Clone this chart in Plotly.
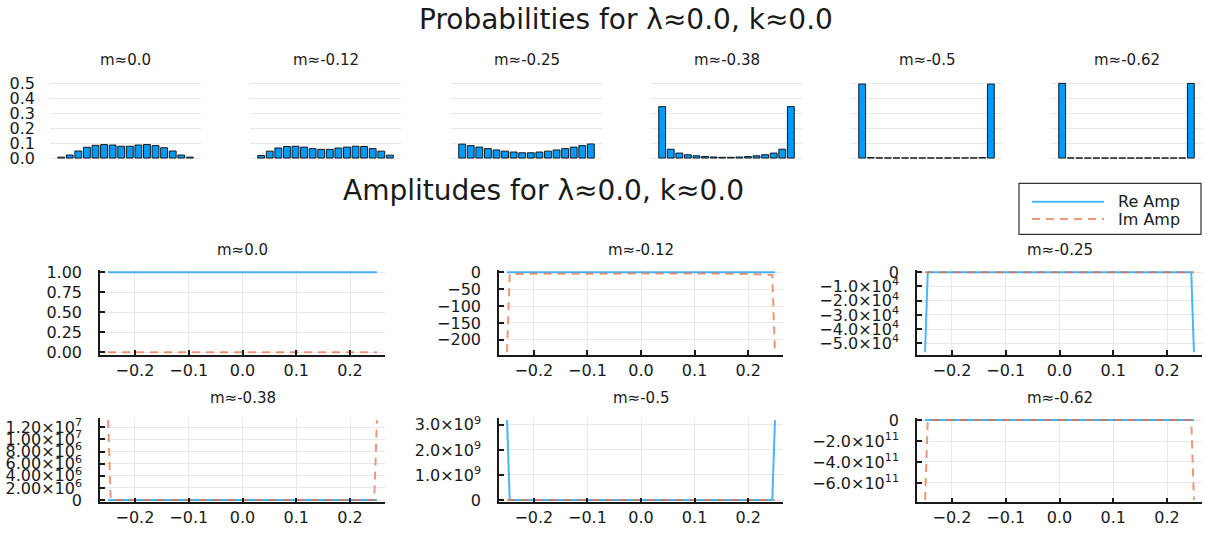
import plotly.graph_objects as go

# ---------------------------------------------------------------- data
M_LABELS = ["m≈0.0", "m≈-0.12", "m≈-0.25", "m≈-0.38", "m≈-0.5", "m≈-0.62"]

STATE_INDEX = [1, 2, 3, 4, 5, 6, 7, 8, 9, 10, 11, 12, 13, 14, 15, 16]

PROB_M0 = [0.006, 0.02, 0.047, 0.072, 0.085, 0.09, 0.087, 0.079,
           0.079, 0.087, 0.09, 0.083, 0.069, 0.047, 0.02, 0.006]
PROB_M012 = [0.017, 0.046, 0.067, 0.077, 0.079, 0.073, 0.063, 0.058,
             0.058, 0.067, 0.073, 0.079, 0.077, 0.063, 0.046, 0.019]
PROB_M025 = [0.093, 0.083, 0.073, 0.063, 0.054, 0.046, 0.04, 0.035,
             0.035, 0.04, 0.046, 0.054, 0.063, 0.073, 0.083, 0.094]
PROB_M038 = [0.344, 0.059, 0.033, 0.022, 0.015, 0.01, 0.007, 0.005,
             0.005, 0.007, 0.01, 0.015, 0.022, 0.033, 0.059, 0.344]
PROB_M05 = [0.495, 0.003, 0.001, 0.0008, 0.0006, 0.0005, 0.0005, 0.0005,
            0.0005, 0.0005, 0.0005, 0.0006, 0.0008, 0.001, 0.003, 0.495]
PROB_M062 = [0.4995, 0.0003, 0.0002, 0.0001, 0.0001, 0.0001, 0.0001, 0.0001,
             0.0001, 0.0001, 0.0001, 0.0001, 0.0001, 0.0002, 0.0003, 0.4995]
PROBS = [PROB_M0, PROB_M012, PROB_M025, PROB_M038, PROB_M05, PROB_M062]

AMP_X = [-0.25, -0.245, -0.2, -0.1, 0.0, 0.1, 0.2, 0.245, 0.25]

RE_M0 = [1.0, 1.0, 1.0, 1.0, 1.0, 1.0, 1.0, 1.0, 1.0]
IM_M0 = [0.0, 0.0, 0.0, 0.0, 0.0, 0.0, 0.0, 0.0, 0.0]
RE_M012 = [0.0, 0.0, 0.0, 0.0, 0.0, 0.0, 0.0, 0.0, 0.0]
IM_M012 = [-237.0, -5.5, -4.5, -3.5, -3.0, -3.5, -5.0, -8.0, -237.0]
RE_M025 = [-56300.0, 0.0, 0.0, 0.0, 0.0, 0.0, 0.0, 0.0, -56300.0]
IM_M025 = [0.0, 0.0, 0.0, 0.0, 0.0, 0.0, 0.0, 0.0, 0.0]
RE_M038 = [0.0, 0.0, 0.0, 0.0, 0.0, 0.0, 0.0, 0.0, 0.0]
IM_M038 = [1.32e7, 0.0, 0.0, 0.0, 0.0, 0.0, 0.0, 0.0, 1.32e7]
RE_M05 = [3.19e9, 0.0, 0.0, 0.0, 0.0, 0.0, 0.0, 0.0, 3.19e9]
IM_M05 = [0.0, 0.0, 0.0, 0.0, 0.0, 0.0, 0.0, 0.0, 0.0]
RE_M062 = [0.0, 0.0, 0.0, 0.0, 0.0, 0.0, 0.0, 0.0, 0.0]
IM_M062 = [-7.64e11, 0.0, 0.0, 0.0, 0.0, 0.0, 0.0, 0.0, -7.64e11]
AMP_RE = [RE_M0, RE_M012, RE_M025, RE_M038, RE_M05, RE_M062]
AMP_IM = [IM_M0, IM_M012, IM_M025, IM_M038, IM_M05, IM_M062]

SERIES_NAMES = ["Re Amp", "Im Amp"]

PROB_YTICKS = [0.0, 0.1, 0.2, 0.3, 0.4, 0.5]
PROB_YTICKTEXT = ["0.0", "0.1", "0.2", "0.3", "0.4", "0.5"]

AMP_XTICKS = [-0.2, -0.1, 0.0, 0.1, 0.2]
AMP_XTICKTEXT = ["−0.2", "−0.1", "0.0", "0.1", "0.2"]

AMP_YTICKS = [
    [0.0, 0.25, 0.5, 0.75, 1.0],
    [0, -50, -100, -150, -200],
    [0, -1e4, -2e4, -3e4, -4e4, -5e4],
    [0, 2e6, 4e6, 6e6, 8e6, 1e7, 1.2e7],
    [0, 1e9, 2e9, 3e9],
    [0, -2e11, -4e11, -6e11],
]
AMP_YTICKTEXT = [
    ["0.00", "0.25", "0.50", "0.75", "1.00"],
    ["0", "−50", "−100", "−150", "−200"],
    ["0", "−1.0×10<sup>4</sup>", "−2.0×10<sup>4</sup>", "−3.0×10<sup>4</sup>",
     "−4.0×10<sup>4</sup>", "−5.0×10<sup>4</sup>"],
    ["0", "2.00×10<sup>6</sup>", "4.00×10<sup>6</sup>", "6.00×10<sup>6</sup>",
     "8.00×10<sup>6</sup>", "1.00×10<sup>7</sup>", "1.20×10<sup>7</sup>"],
    ["0", "1.0×10<sup>9</sup>", "2.0×10<sup>9</sup>", "3.0×10<sup>9</sup>"],
    ["0", "−2.0×10<sup>11</sup>", "−4.0×10<sup>11</sup>", "−6.0×10<sup>11</sup>"],
]

# ---------------------------------------------------------------- style
W, H = 1206, 546
FONT = "DejaVu Sans"
TXT = "#1a1a1a"
BAR_FILL = "#009AFA"
RE_COLOR = "rgba(0,154,250,0.72)"
IM_COLOR = "rgba(227,111,71,0.72)"
IM_DASH = "8px,6px"
GRID = "#e8e8e8"
TICK_SIZE = 16
SUBTITLE_SIZE = 15
TITLE_SIZE = 28


def px_x(v):
    return v / W


def px_y(v):
    return 1 - v / H


def xdom(left, right):
    return [px_x(left), px_x(right)]


def ydom(top, bottom):
    return [px_y(bottom), px_y(top)]


def widened(values):
    lo, hi = min(values), max(values)
    pad = 0.03 * (hi - lo)
    return [lo - pad, hi + pad]


def label(text, x, y, size, anchor="center"):
    return dict(
        text=text, x=px_x(x), y=px_y(y), xref="paper", yref="paper",
        showarrow=False, font=dict(size=size, color=TXT),
        xanchor=anchor, yanchor="middle",
    )


fig = go.Figure()
layout = dict(
    width=W, height=H,
    margin=dict(l=0, r=0, t=0, b=0),
    paper_bgcolor="white", plot_bgcolor="white",
    font=dict(family=FONT, size=TICK_SIZE, color=TXT),
    showlegend=False,
)
annotations = []
shapes = []

# probability bar panels
BAR_LEFT = [50, 250, 451, 651, 851, 1051]
BAR_W = 151
BAR_TOP, BAR_BOTTOM = 76, 157.3
for i, probs in enumerate(PROBS):
    n = i + 1
    fig.add_trace(go.Bar(
        x=STATE_INDEX, y=probs, width=0.8,
        marker=dict(color=BAR_FILL, line=dict(color="#1a1a1a", width=1)),
        xaxis=f"x{n}", yaxis=f"y{n}", hoverinfo="skip",
    ))
    left = BAR_LEFT[i]
    layout[f"xaxis{n}"] = dict(
        domain=xdom(left, left + BAR_W), anchor=f"y{n}",
        range=[-0.3, 17.3], showgrid=False, zeroline=False,
        showline=False, showticklabels=False, ticks="",
    )
    layout[f"yaxis{n}"] = dict(
        domain=ydom(BAR_TOP, BAR_BOTTOM), anchor=f"x{n}",
        range=[-0.015, 0.515], tickvals=PROB_YTICKS, ticktext=PROB_YTICKTEXT,
        showgrid=True, gridcolor=GRID, gridwidth=1, zeroline=False,
        showline=False, ticks="", showticklabels=(i == 0),
        ticklabelstandoff=14, tickfont=dict(size=TICK_SIZE, color=TXT),
    )
    annotations.append(label(M_LABELS[i], left + BAR_W / 2, 54, SUBTITLE_SIZE))

# amplitude line panels
AMP_LEFT = [100, 499, 917]
AMP_RIGHT = [385, 783, 1202]
AMP_ROWS = [(269.8, 356.8), (421.5, 508.5)]
AMP_TITLE_Y = [249, 401]
for j in range(6):
    n = 7 + j
    col, row = j % 3, j // 3
    fig.add_trace(go.Scatter(
        x=AMP_X, y=AMP_RE[j], mode="lines", name=SERIES_NAMES[0],
        line=dict(color=RE_COLOR, width=2),
        xaxis=f"x{n}", yaxis=f"y{n}", hoverinfo="skip",
    ))
    fig.add_trace(go.Scatter(
        x=AMP_X, y=AMP_IM[j], mode="lines", name=SERIES_NAMES[1],
        line=dict(color=IM_COLOR, width=2, dash=IM_DASH),
        xaxis=f"x{n}", yaxis=f"y{n}", hoverinfo="skip",
    ))
    top, bottom = AMP_ROWS[row]
    axis_style = dict(
        showgrid=True, gridcolor=GRID, gridwidth=1, zeroline=False,
        showline=True, linecolor="#1a1a1a", linewidth=1.5,
        ticks="inside", ticklen=5, tickwidth=1.5, tickcolor="#1a1a1a",
        tickfont=dict(size=TICK_SIZE, color=TXT),
    )
    layout[f"xaxis{n}"] = dict(
        domain=xdom(AMP_LEFT[col], AMP_RIGHT[col]), anchor=f"y{n}",
        range=[-0.265, 0.265], tickvals=AMP_XTICKS, ticktext=AMP_XTICKTEXT,
        ticklabelstandoff=0, **axis_style,
    )
    layout[f"yaxis{n}"] = dict(
        domain=ydom(top, bottom), anchor=f"x{n}",
        range=widened(AMP_RE[j] + AMP_IM[j]),
        tickvals=AMP_YTICKS[j], ticktext=AMP_YTICKTEXT[j],
        ticklabelstandoff=13, **axis_style,
    )
    annotations.append(label(M_LABELS[j], (AMP_LEFT[col] + AMP_RIGHT[col]) / 2,
                             AMP_TITLE_Y[row], SUBTITLE_SIZE))

# series key (box, line samples, names)
KEY_BOX = (1019, 181, 1201, 233.3)
KEY_ROWS = [200, 217.7]
KEY_LINE = (1032, 1104)
KEY_TEXT_X = 1116
shapes.append(dict(
    type="rect", xref="paper", yref="paper",
    x0=px_x(KEY_BOX[0]), x1=px_x(KEY_BOX[2]),
    y0=px_y(KEY_BOX[3]), y1=px_y(KEY_BOX[1]),
    line=dict(color="#333333", width=1.2), fillcolor="white",
))
key_styles = [dict(color=RE_COLOR, width=2), dict(color=IM_COLOR, width=2, dash=IM_DASH)]
for name, ky, style in zip(SERIES_NAMES, KEY_ROWS, key_styles):
    shapes.append(dict(
        type="line", xref="paper", yref="paper",
        x0=px_x(KEY_LINE[0]), x1=px_x(KEY_LINE[1]), y0=px_y(ky), y1=px_y(ky),
        line=style,
    ))
    annotations.append(label(name, KEY_TEXT_X, ky, TICK_SIZE, anchor="left"))

# overall titles
annotations.append(label("Probabilities for λ≈0.0, k≈0.0", 625.5, 13, TITLE_SIZE))
annotations.append(label("Amplitudes for λ≈0.0, k≈0.0", 543, 188, TITLE_SIZE))

layout["annotations"] = annotations
layout["shapes"] = shapes
fig.update_layout(**layout)
fig.write_html("out.html")
